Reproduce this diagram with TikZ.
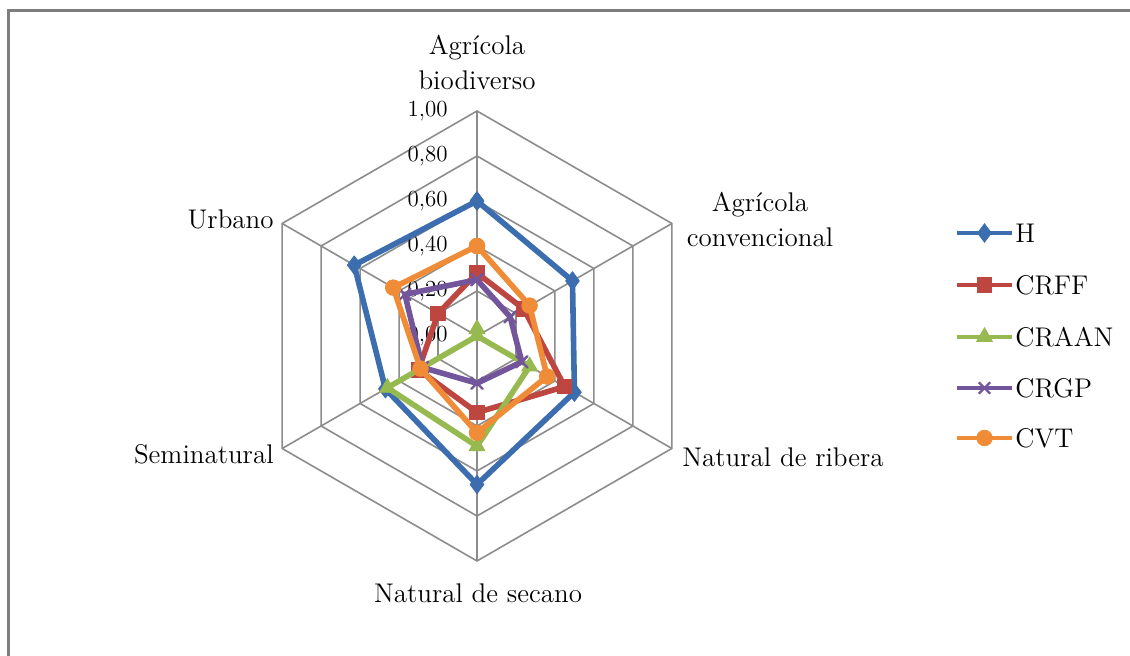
\documentclass[tikz,border=0pt]{standalone}
\usetikzlibrary{plotmarks}
\definecolor{colH}{RGB}{60,110,175}
\definecolor{colCRFF}{RGB}{190,70,65}
\definecolor{colCRAAN}{RGB}{150,185,80}
\definecolor{colCRGP}{RGB}{115,85,155}
\definecolor{colCVT}{RGB}{240,140,55}
\definecolor{gridgray}{RGB}{140,140,140}
\definecolor{framegray}{RGB}{125,125,125}
\begin{document}
\begin{tikzpicture}[x=0.5pt, y=0.5pt,
        grid/.style={draw=gridgray, line width=0.8pt},
        series/.style={line width=2.8pt, line join=round, line cap=round},
        legline/.style={line width=2pt},
        mkH/.style={mark=diamond*, mark size=4.6pt, mark options={solid, line width=0.4pt}},
        mkCRFF/.style={mark=square*, mark size=3.6pt, mark options={solid, line width=0.4pt}},
        mkCRAAN/.style={mark=triangle*, mark size=4.6pt, mark options={solid, line width=0.4pt}},
        mkCRGP/.style={mark=x, mark size=4pt, mark options={solid, line width=1.2pt}},
        mkCVT/.style={mark=*, mark size=3.9pt, mark options={solid, line width=0.4pt}},
        axislbl/.style={font=\fontsize{13.5}{17.5}\selectfont, align=center, inner sep=0pt},
        ticklbl/.style={font=\fontsize{11.5}{13}\selectfont, anchor=east, inner sep=0pt, xshift=-14.5pt},
        leglbl/.style={font=\fontsize{13.5}{15}\selectfont, anchor=west, inner sep=0pt}
    ]
        \useasboundingbox (0,0) rectangle (1130,656);

        % Frame
        \draw[framegray, line width=1.5pt] (8,0) -- (8,645) -- (1130,645);

        \begin{scope}[shift={(477,320)}, x=112.5pt, y=112.5pt]
            % Grid rings and spokes
            \foreach \k in {1,...,5} {
                \draw[grid] (90:\k/5) -- (30:\k/5) -- (-30:\k/5) -- (-90:\k/5) -- (-150:\k/5) -- (150:\k/5) -- cycle;
            }
            \foreach \a in {90,30,-30,-90,-150,150} {
                \draw[grid] (0,0) -- (\a:1);
            }

            % Scale
            \foreach \k/\t in {0/{0,00},1/{0,20},2/{0,40},3/{0,60},4/{0,80},5/{1,00}} {
                \node[ticklbl] (tick\k) at (0,\k/5) {\t};
            }

            % Series
            \draw[series, colH] plot[mkH] coordinates {(90:0.60) (30:0.49) (-30:0.50) (-90:0.66) (-150:0.47) (150:0.63) (90:0.60)};
            \draw[series, colCRFF] plot[mkCRFF] coordinates {(90:0.28) (30:0.24) (-30:0.45) (-90:0.34) (-150:0.30) (150:0.20) (90:0.28)};
            \draw[series, colCRAAN] plot[mkCRAAN] coordinates {(90:0.03) (30:0.00) (-30:0.27) (-90:0.49) (-150:0.46) (150:0.00) (90:0.03)};
            \draw[series, colCRGP] plot[mkCRGP] coordinates {(90:0.25) (30:0.17) (-30:0.23) (-90:0.21) (-150:0.28) (150:0.37) (90:0.25)};
            \draw[series, colCVT] plot[mkCVT] coordinates {(90:0.40) (30:0.27) (-30:0.36) (-90:0.43) (-150:0.29) (150:0.43) (90:0.40)};
        \end{scope}

        % Axis labels
        \node[axislbl] (biodiv) at (477,593) {Agrícola\\biodiverso};
        \node[axislbl] (conv) at (760,436) {Agrícola\\convencional};
        \node[axislbl, anchor=west] (ribera) at (682,199) {Natural de ribera};
        \node[axislbl] (secano) at (478,63) {Natural de secano};
        \node[axislbl, anchor=east] (semi) at (274,202) {Seminatural};
        \node[axislbl, anchor=east] (urbano) at (274,437) {Urbano};

        % Legend
        \foreach \n/\y in {H/423, CRFF/371, CRAAN/319, CRGP/268, CVT/218} {
            \draw[legline, col\n] plot[mk\n, mark indices={2}] coordinates {(957,\y) (984.5,\y) (1012,\y)};
            \node[leglbl] (leg\n) at (1015,\y) {\n};
        }
    \end{tikzpicture}
\end{document}
